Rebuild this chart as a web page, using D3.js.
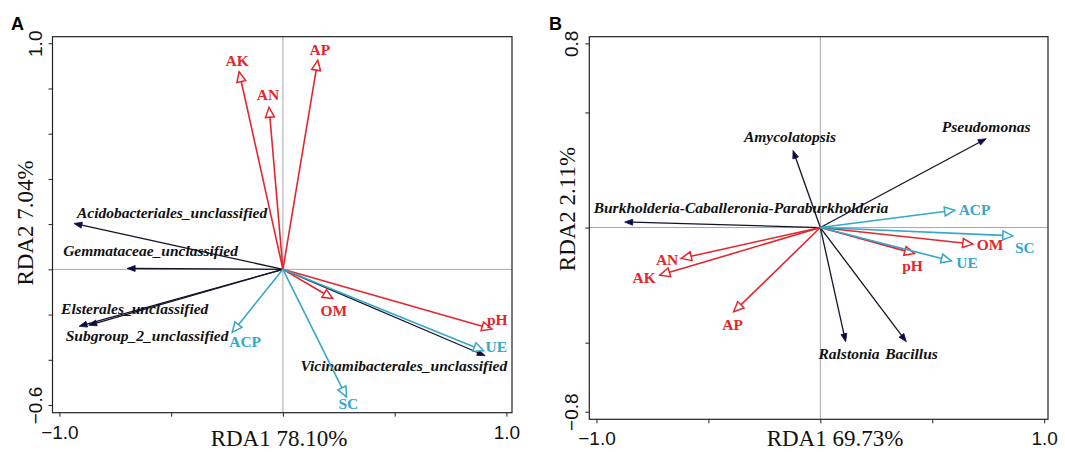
<!DOCTYPE html>
<html>
<head>
<meta charset="utf-8">
<script src="https://cdn.jsdelivr.net/npm/d3@7"></script>
<style>
body { margin: 0; background: #fff; }
svg { display: block; }
</style>
</head>
<body>
<div id="chart"></div>
<script>
// ---- panel A: soil properties / enzymes and bacterial orders
var envA = ["AK", "AN", "AP", "OM", "pH", "ACP", "UE", "SC"];
var envA_rda1 = [-0.196, -0.062, 0.156, 0.223, 0.935, -0.227, 0.898, 0.284];
var envA_rda2 = [0.874, 0.717, 0.925, -0.129, -0.264, -0.279, -0.360, -0.564];
var taxaA = ["Acidobacteriales_unclassified", "Gemmataceae_unclassified", "Elsterales_unclassified",
	"Subgroup_2_unclassified", "Vicinamibacterales_unclassified"];
var taxaA_rda1 = [-0.935, -0.697, -0.912, -0.869, 0.905];
var taxaA_rda2 = [0.203, 0.004, -0.252, -0.247, -0.382];

// ---- panel B: genera
var envB = ["AK", "AN", "AP", "OM", "pH", "ACP", "UE", "SC"];
var envB_rda1 = [-0.717, -0.621, -0.387, 0.681, 0.421, 0.600, 0.585, 0.860];
var envB_rda2 = [-0.207, -0.134, -0.366, -0.072, -0.113, 0.075, -0.145, -0.036];
var taxaB = ["Amycolatopsis", "Pseudomonas", "Burkholderia-Caballeronia-Paraburkholderia", "Ralstonia", "Bacillus"];
var taxaB_rda1 = [-0.122, 0.741, -0.874, 0.113, 0.384];
var taxaB_rda2 = [0.335, 0.386, 0.024, -0.496, -0.496];

var enzymes = ["ACP", "UE", "SC"];

var xTicks = [-1.0, -0.5, 0, 0.5, 1.0];
var yTicksA = [1.0, 0.8, 0.6, 0.4, 0.2, 0, -0.2, -0.4, -0.6];
var yTicksB = [0.8, 0.5, 0, -0.5, -0.8];

var red = "#e3262d", cyan = "#35a7c7", navy = "#0c0c44";

// label placement, pixels relative to arrow tip
var labA = {
	AK: [-2, -6, "middle"], AN: [-1, -7, "middle"], AP: [2, -5, "middle"],
	OM: [1, 17, "middle"], pH: [-5, -4, "start"], ACP: [-3, 15, "start"],
	UE: [2, 1, "start"], SC: [2, 12, "middle"],
	Acidobacteriales_unclassified: [3, -5, "start"],
	Gemmataceae_unclassified: [-64, -12, "start"],
	Elsterales_unclassified: [-18, -12, "start"],
	Subgroup_2_unclassified: [-23, 16, "start"],
	Vicinamibacterales_unclassified: [22, 15, "end"]
};
var labB = {
	AK: [-4, 8, "end"], AN: [-3, 7, "end"], AP: [-1, 18, "middle"],
	OM: [4, 6, "start"], pH: [-2, 17, "middle"], ACP: [4, 5, "start"],
	UE: [5, 7, "start"], SC: [12, 17, "middle"],
	Amycolatopsis: [-3, -8, "middle"], Pseudomonas: [0, -7, "middle"],
	"Burkholderia-Caballeronia-Paraburkholderia": [-31, -9, "start"],
	Ralstonia: [34, 17, "end"], Bacillus: [-21, 17, "start"]
};

var W = 1065, H = 452;
var svg = d3.select("#chart").append("svg")
	.attr("width", W)
	.attr("height", H);

function zip(names, a, b) {
	return names.map(function(n, i) { return {name: n, x: a[i], y: b[i]}; });
}

function makePanel(cfg) {
	var x = d3.scaleLinear().domain(cfg.xDomain).range([cfg.left, cfg.right]);
	var y = d3.scaleLinear().domain(cfg.yDomain).range([cfg.bottom, cfg.top]);
	var g = svg.append("g");

	// zero lines
	g.append("line")
		.attr("x1", cfg.left).attr("x2", cfg.right)
		.attr("y1", y(0)).attr("y2", y(0))
		.attr("stroke", "#a8a8a8").attr("stroke-width", 1);
	g.append("line")
		.attr("x1", x(0)).attr("x2", x(0))
		.attr("y1", cfg.top).attr("y2", cfg.bottom)
		.attr("stroke", "#a8a8a8").attr("stroke-width", 1);

	// box
	g.append("rect")
		.attr("x", cfg.left).attr("y", cfg.top)
		.attr("width", cfg.right - cfg.left).attr("height", cfg.bottom - cfg.top)
		.attr("fill", "none").attr("stroke", "#222").attr("stroke-width", 1.2);

	// axes
	var xa = g.append("g")
		.attr("transform", "translate(0," + cfg.bottom + ")")
		.call(d3.axisBottom(x).tickValues(xTicks).tickSize(4)
			.tickFormat(function(d) { return Math.abs(d) === 1 ? d3.format(".1f")(d) : ""; }));
	xa.select(".domain").remove();
	xa.selectAll("line").attr("stroke", "#222");
	xa.selectAll("text")
		.attr("y", 26).attr("dy", null)
		.style("font-family", "'Liberation Sans', Arial, sans-serif")
		.style("font-size", "19px").attr("fill", "#111");

	var ends = [cfg.yTicks[0], cfg.yTicks[cfg.yTicks.length - 1]];
	var ya = g.append("g")
		.attr("transform", "translate(" + cfg.left + ",0)")
		.call(d3.axisLeft(y).tickValues(cfg.yTicks).tickSize(4)
			.tickFormat(function(d) { return ends.indexOf(d) >= 0 ? d3.format(".1f")(d) : ""; }));
	ya.select(".domain").remove();
	ya.selectAll("line").attr("stroke", "#222");
	ya.selectAll("text")
		.attr("transform", "rotate(-90)")
		.attr("x", 0).attr("y", -11).attr("dy", null)
		.attr("text-anchor", "middle")
		.style("font-family", "'Liberation Sans', Arial, sans-serif")
		.style("font-size", "19px").attr("fill", "#111");

	// axis titles
	g.append("text")
		.attr("x", cfg.xTitleX).attr("y", 446)
		.attr("text-anchor", "middle")
		.style("font-family", "'Liberation Serif', 'Times New Roman', serif")
		.style("font-size", "23px").attr("fill", "#111")
		.text(cfg.xTitle);
	g.append("text")
		.attr("transform", "translate(" + cfg.yTitleX + "," + cfg.yTitleY + ") rotate(-90)")
		.attr("text-anchor", "middle")
		.style("font-family", "'Liberation Serif', 'Times New Roman', serif")
		.style("font-size", "23px").attr("fill", "#111")
		.text(cfg.yTitle);

	// panel letter
	g.append("text")
		.attr("x", cfg.letterX).attr("y", 30)
		.style("font-family", "'Liberation Sans', Arial, sans-serif")
		.style("font-size", "18px").style("font-weight", "bold")
		.text(cfg.letter);

	var ox = x(0), oy = y(0);

	function head(d, len, half) {
		var tx = x(d.x), ty = y(d.y);
		var dx = tx - ox, dy = ty - oy, L = Math.sqrt(dx * dx + dy * dy);
		var ux = dx / L, uy = dy / L;
		var bx = tx - len * ux, by = ty - len * uy;
		return {
			tx: tx, ty: ty, bx: bx, by: by,
			pts: [[tx, ty], [bx - half * uy, by + half * ux], [bx + half * uy, by - half * ux]]
		};
	}

	// taxa arrows (black, filled head)
	var taxa = g.selectAll(".taxon").data(cfg.taxa).enter().append("g").attr("class", "taxon");
	taxa.append("line")
		.attr("x1", ox).attr("y1", oy)
		.attr("x2", function(d) { return head(d, 7, 3).bx; })
		.attr("y2", function(d) { return head(d, 7, 3).by; })
		.attr("stroke", "#141428").attr("stroke-width", 1.3);
	taxa.append("path")
		.attr("d", function(d) { return "M" + head(d, 8, 3).pts.join("L") + "Z"; })
		.attr("fill", navy).attr("stroke", navy).attr("stroke-width", 0.8);
	taxa.append("text")
		.attr("x", function(d) { return x(d.x) + cfg.lab[d.name][0]; })
		.attr("y", function(d) { return y(d.y) + cfg.lab[d.name][1]; })
		.attr("text-anchor", function(d) { return cfg.lab[d.name][2]; })
		.style("font-family", "'Liberation Serif', 'Times New Roman', serif")
		.style("font-size", "15.5px").style("font-weight", "bold").style("font-style", "italic")
		.attr("fill", "#111")
		.text(function(d) { return d.name; });

	// environmental arrows (red / cyan, open head)
	var col = function(d) { return enzymes.indexOf(d.name) >= 0 ? cyan : red; };
	var env = g.selectAll(".env").data(cfg.env).enter().append("g").attr("class", "env");
	env.append("line")
		.attr("x1", ox).attr("y1", oy)
		.attr("x2", function(d) { return head(d, 10, 4.5).bx; })
		.attr("y2", function(d) { return head(d, 10, 4.5).by; })
		.attr("stroke", col).attr("stroke-width", 1.6);
	env.append("path")
		.attr("d", function(d) { return "M" + head(d, 10, 4.5).pts.join("L") + "Z"; })
		.attr("fill", "#fff").attr("stroke", col).attr("stroke-width", 1.5);
	env.append("text")
		.attr("x", function(d) { return x(d.x) + cfg.lab[d.name][0]; })
		.attr("y", function(d) { return y(d.y) + cfg.lab[d.name][1]; })
		.attr("text-anchor", function(d) { return cfg.lab[d.name][2]; })
		.style("font-family", "'Liberation Serif', 'Times New Roman', serif")
		.style("font-size", "15.5px").style("font-weight", "bold")
		.attr("fill", col)
		.text(function(d) { return d.name; });
}

makePanel({
	letter: "A", letterX: 11,
	left: 52.5, right: 512, top: 36.7, bottom: 412.7,
	xDomain: [-1.031, 1.025], yDomain: [-0.634, 1.029],
	yTicks: yTicksA,
	xTitle: "RDA1 78.10%", xTitleX: 279,
	yTitle: "RDA2 7.04%", yTitleX: 33, yTitleY: 223,
	env: zip(envA, envA_rda1, envA_rda2),
	taxa: zip(taxaA, taxaA_rda1, taxaA_rda2),
	lab: labA
});

makePanel({
	letter: "B", letterX: 549,
	left: 589.3, right: 1048, top: 36.7, bottom: 419.3,
	xDomain: [-1.032, 1.017], yDomain: [-0.833, 0.829],
	yTicks: yTicksB,
	xTitle: "RDA1 69.73%", xTitleX: 835,
	yTitle: "RDA2 2.11%", yTitleX: 575, yTitleY: 209,
	env: zip(envB, envB_rda1, envB_rda2),
	taxa: zip(taxaB, taxaB_rda1, taxaB_rda2),
	lab: labB
});
</script>
</body>
</html>
